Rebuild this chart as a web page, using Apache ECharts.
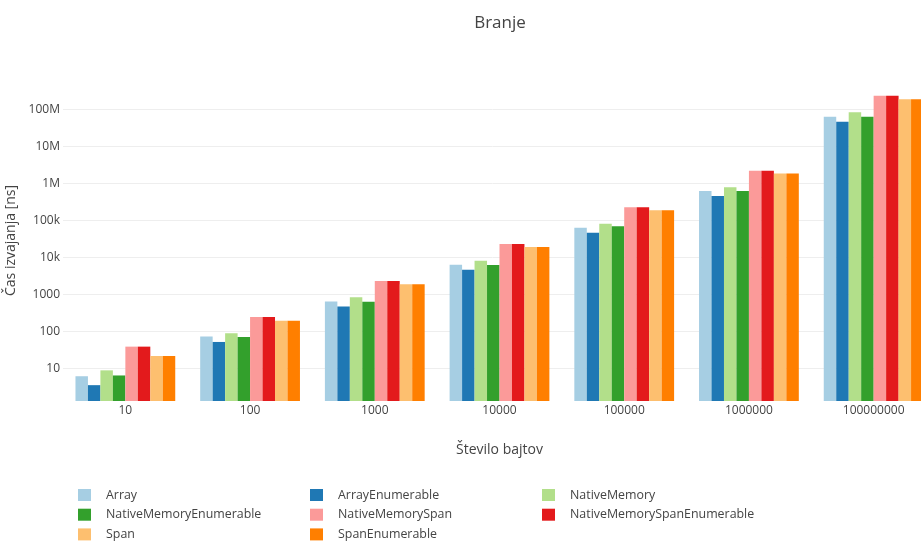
<!DOCTYPE html>
<html>
<head>
<meta charset="utf-8">
<script src="https://cdn.jsdelivr.net/npm/echarts@6/dist/echarts.min.js"></script>
<style>html,body{margin:0;padding:0;background:#fff}#c{width:921px;height:541px}</style>
</head>
<body>
<div id="c"></div>
<script>
const categories = ['10', '100', '1000', '10000', '100000', '1000000', '100000000'];
const seriesNames = ['Array', 'ArrayEnumerable', 'NativeMemory', 'NativeMemoryEnumerable', 'NativeMemorySpan', 'NativeMemorySpanEnumerable', 'Span', 'SpanEnumerable'];
const colors = ['#a6cee3', '#1f78b4', '#b2df8a', '#33a02c', '#fb9a99', '#e31a1c', '#fdbf6f', '#ff7f00'];
const arrayVals = [6.1, 72, 635, 6300, 63000, 620000, 63000000];
const arrayEnumVals = [3.5, 51.5, 466, 4630, 46200, 454000, 46000000];
const nativeMemoryVals = [8.8, 88, 830, 8100, 81000, 780000, 83000000];
const nativeMemoryEnumVals = [6.4, 70, 625, 6200, 68800, 615000, 63000000];
const nativeMemorySpanVals = [38.5, 243, 2280, 22900, 224000, 2200000, 233000000];
const nativeMemorySpanEnumVals = [38.5, 243, 2280, 22900, 224000, 2200000, 233000000];
const spanVals = [21.5, 194, 1860, 19000, 186000, 1830000, 186000000];
const spanEnumVals = [21.5, 194, 1860, 19000, 186000, 1830000, 186000000];
const yTickValues = [10, 100, 1000, 10000, 100000, 1000000, 10000000, 100000000];
const yTickLabels = ['10', '100', '1000', '10k', '100k', '1M', '10M', '100M'];

const allVals = [arrayVals, arrayEnumVals, nativeMemoryVals, nativeMemoryEnumVals, nativeMemorySpanVals, nativeMemorySpanEnumVals, spanVals, spanEnumVals];
const font = '"Open Sans", verdana, arial, sans-serif';
const txt = '#444';

const legendCols = [
  {left: 78, names: ['Array', 'NativeMemoryEnumerable', 'Span']},
  {left: 310, names: ['ArrayEnumerable', 'NativeMemorySpan', 'SpanEnumerable']},
  {left: 542, names: ['NativeMemory', 'NativeMemorySpanEnumerable']}
];

const chart = echarts.init(document.getElementById('c'), null, {renderer: 'canvas'});
chart.setOption({
  animation: false,
  backgroundColor: '#fff',
  textStyle: {fontFamily: font},
  title: {
    text: 'Branje', left: 495, top: 10, textAlign: 'center',
    textStyle: {fontFamily: font, fontSize: 17, fontWeight: 'normal', color: txt}
  },
  grid: {left: 63, top: 80, width: 873, bottom: 140, containLabel: false, outerBoundsMode: 'none'},
  legend: legendCols.map(c => ({
    orient: 'vertical', left: c.left, top: 489, height: 120, padding: 0,
    itemWidth: 13, itemHeight: 12, itemGap: 7.7,
    icon: 'rect', data: c.names,
    textStyle: {fontFamily: font, fontSize: 12.4, color: txt, padding: [0, 0, 0, 10]}
  })),
  xAxis: {
    type: 'category', data: categories,
    name: 'Število bajtov', nameLocation: 'middle', nameGap: 42,
    nameTextStyle: {fontFamily: font, fontSize: 14, color: txt},
    axisLine: {show: false}, axisTick: {show: false},
    axisLabel: {fontFamily: font, fontSize: 12, color: txt, margin: 4}
  },
  yAxis: {
    type: 'log', logBase: 10, min: 1.306, max: 6.2e8,
    name: 'Čas izvajanja [ns]', nameLocation: 'middle', nameGap: 36,
    nameTextStyle: {fontFamily: font, fontSize: 14, color: txt},
    axisLine: {show: false}, axisTick: {show: false},
    splitLine: {show: true, showMinLine: false, showMaxLine: false, lineStyle: {color: '#eee', width: 1}},
    axisLabel: {
      fontFamily: font, fontSize: 12, color: txt, margin: 3,
      showMinLabel: false, showMaxLabel: false,
      formatter: function (v) {
        for (let i = 0; i < yTickValues.length; i++) {
          if (Math.abs(Math.log10(v) - Math.log10(yTickValues[i])) < 1e-6) return yTickLabels[i];
        }
        return '';
      }
    }
  },
  series: seriesNames.map((n, i) => ({
    name: n, type: 'bar', data: allVals[i],
    itemStyle: {color: colors[i]},
    barGap: '0%', barCategoryGap: '20%'
  }))
});
</script>
</body>
</html>
